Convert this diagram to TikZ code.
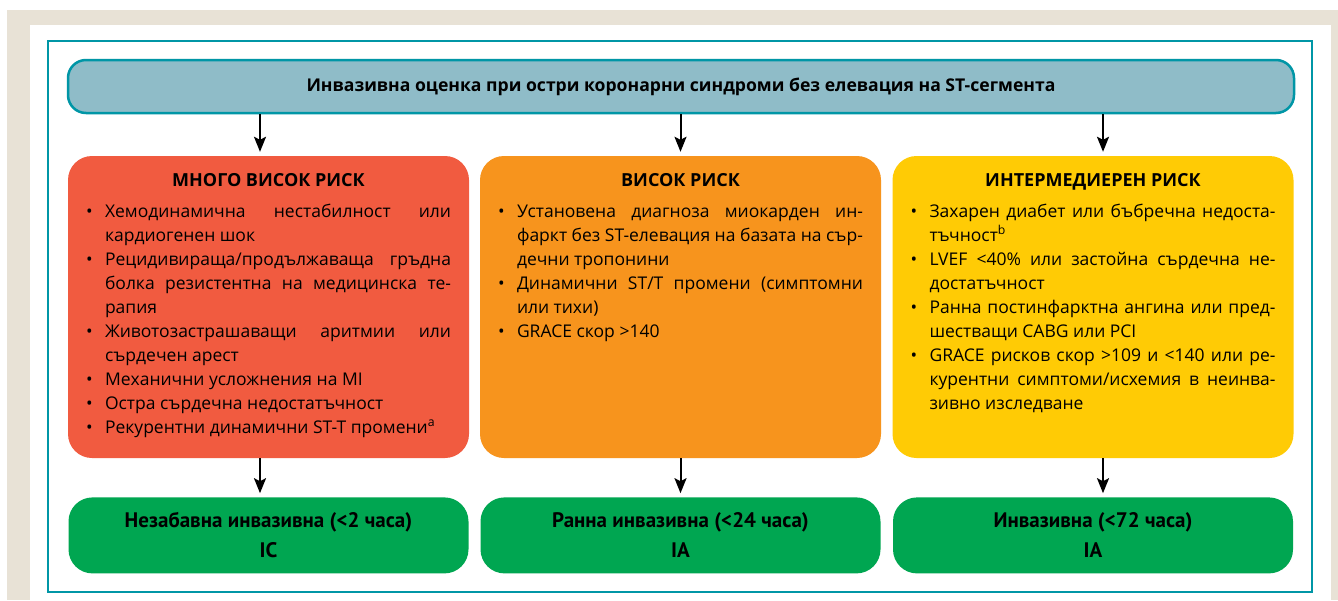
\documentclass[tikz,border=0pt]{standalone}
\usepackage{fontspec}
\setmainfont{Open Sans}
\newfontfamily\narrowfont{PT Sans}
\usepackage{enumitem}
\usepackage{tikz}
\usetikzlibrary{arrows.meta,positioning}
\definecolor{beige}{RGB}{232,226,214}
\definecolor{teal}{RGB}{0,150,166}
\definecolor{titlefill}{RGB}{143,188,200}
\definecolor{riskred}{RGB}{241,91,64}
\definecolor{riskorange}{RGB}{247,148,29}
\definecolor{riskyellow}{RGB}{255,203,5}
\definecolor{invgreen}{RGB}{0,166,81}
\setlist[itemize]{nosep, label=\textbullet, leftmargin=19pt, labelwidth=12pt, labelsep=7pt, align=left}
\hyphenpenalty=10000
\newcommand{\riskhead}[1]{{\centering\fontsize{18}{20}\selectfont\bfseries\rule{0pt}{20pt}#1\par}\vspace{7pt}}

\begin{document}
\begin{tikzpicture}[x=1pt, y=-1pt,
  font=\fontsize{17.5}{24}\selectfont,
  headbox/.style={draw=teal, line width=2.5pt, fill=titlefill, rounded corners=18pt, minimum width=1226pt, minimum height=53pt, font=\fontsize{17.6}{20}\selectfont\bfseries},
  risk/.style={rounded corners=24pt, inner xsep=18pt, inner ysep=10pt},
  timing/.style={fill=invgreen, rounded corners=24pt, minimum width=400pt, minimum height=76pt, align=center, font=\narrowfont\fontsize{21}{30}\selectfont\bfseries},
  arrow/.style={-{Stealth[length=15pt,width=12pt,inset=3pt]}, line width=2pt, shorten >=4pt}
]
\useasboundingbox (0,0) rectangle (1338,600);
\fill[beige] (7,10) rectangle (1338,600);
\fill[white] (30,25) rectangle (1331,600);
\draw[teal, line width=2.5pt] (48,41) rectangle (1312,592);

\node[headbox] (title) at (681,86.5) {Инвазивна оценка при остри коронарни синдроми без елевация на ST-сегмента};

\node[risk, fill=riskred] (vhigh) at (268.5,307) {\begin{minipage}[t][282pt][t]{365pt}
\riskhead{МНОГО ВИСОК РИСК}
\begin{itemize}
\item Хемодинамична нестабилност или\linebreak кардиогенен шок
\item Рецидивираща/продължаваща гръдна\linebreak болка резистентна на медицинска те-\linebreak рапия
\item Животозастрашаващи аритмии или\linebreak сърдечен арест
\item Механични усложнения на MI
\item Остра сърдечна недостатъчност
\item Рекурентни динамични ST-T промени\textsuperscript{a}
\end{itemize}
\end{minipage}};

\node[risk, fill=riskorange] (high) at (680.5,307) {\begin{minipage}[t][282pt][t]{365pt}
\riskhead{ВИСОК РИСК}
\begin{itemize}
\item Установена диагноза миокарден ин-\linebreak фаркт без ST-елевация на базата на сър-\linebreak дечни тропонини
\item Динамични ST/T промени (симптомни\linebreak или тихи)
\item GRACE скор >140
\end{itemize}
\end{minipage}};

\node[risk, fill=riskyellow] (inter) at (1093,307) {\begin{minipage}[t][282pt][t]{365pt}
\riskhead{ИНТЕРМЕДИЕРЕН РИСК}
\begin{itemize}
\item Захарен диабет или бъбречна недоста-\linebreak тъчност\textsuperscript{b}
\item LVEF <40\% или застойна сърдечна не-\linebreak достатъчност
\item Ранна постинфарктна ангина или пред-\linebreak шестващи CABG или PCI
\item GRACE рисков скор >109 и <140 или ре-\linebreak курентни симптоми/исхемия в неинва-\linebreak зивно изследване
\end{itemize}
\end{minipage}};

\node[timing, below=39pt of vhigh] (immediate) {Незабавна инвазивна (<2 часа)\\IC};
\node[timing, below=39pt of high] (early) {Ранна инвазивна (<24 часа)\\IA};
\node[timing, below=39pt of inter] (invasive) {Инвазивна (<72 часа)\\IA};

\draw[arrow] ([xshift=-8.5pt]vhigh.north |- title.south) -- ([xshift=-8.5pt]vhigh.north);
\draw[arrow] (high.north |- title.south) -- (high.north);
\draw[arrow] ([xshift=10pt]inter.north |- title.south) -- ([xshift=10pt]inter.north);
\draw[arrow] ([xshift=-8.5pt]vhigh.south) -- ([xshift=-8.5pt]immediate.north);
\draw[arrow] (high.south) -- (early.north);
\draw[arrow] ([xshift=10pt]inter.south) -- ([xshift=10pt]invasive.north);
\end{tikzpicture}
\end{document}
